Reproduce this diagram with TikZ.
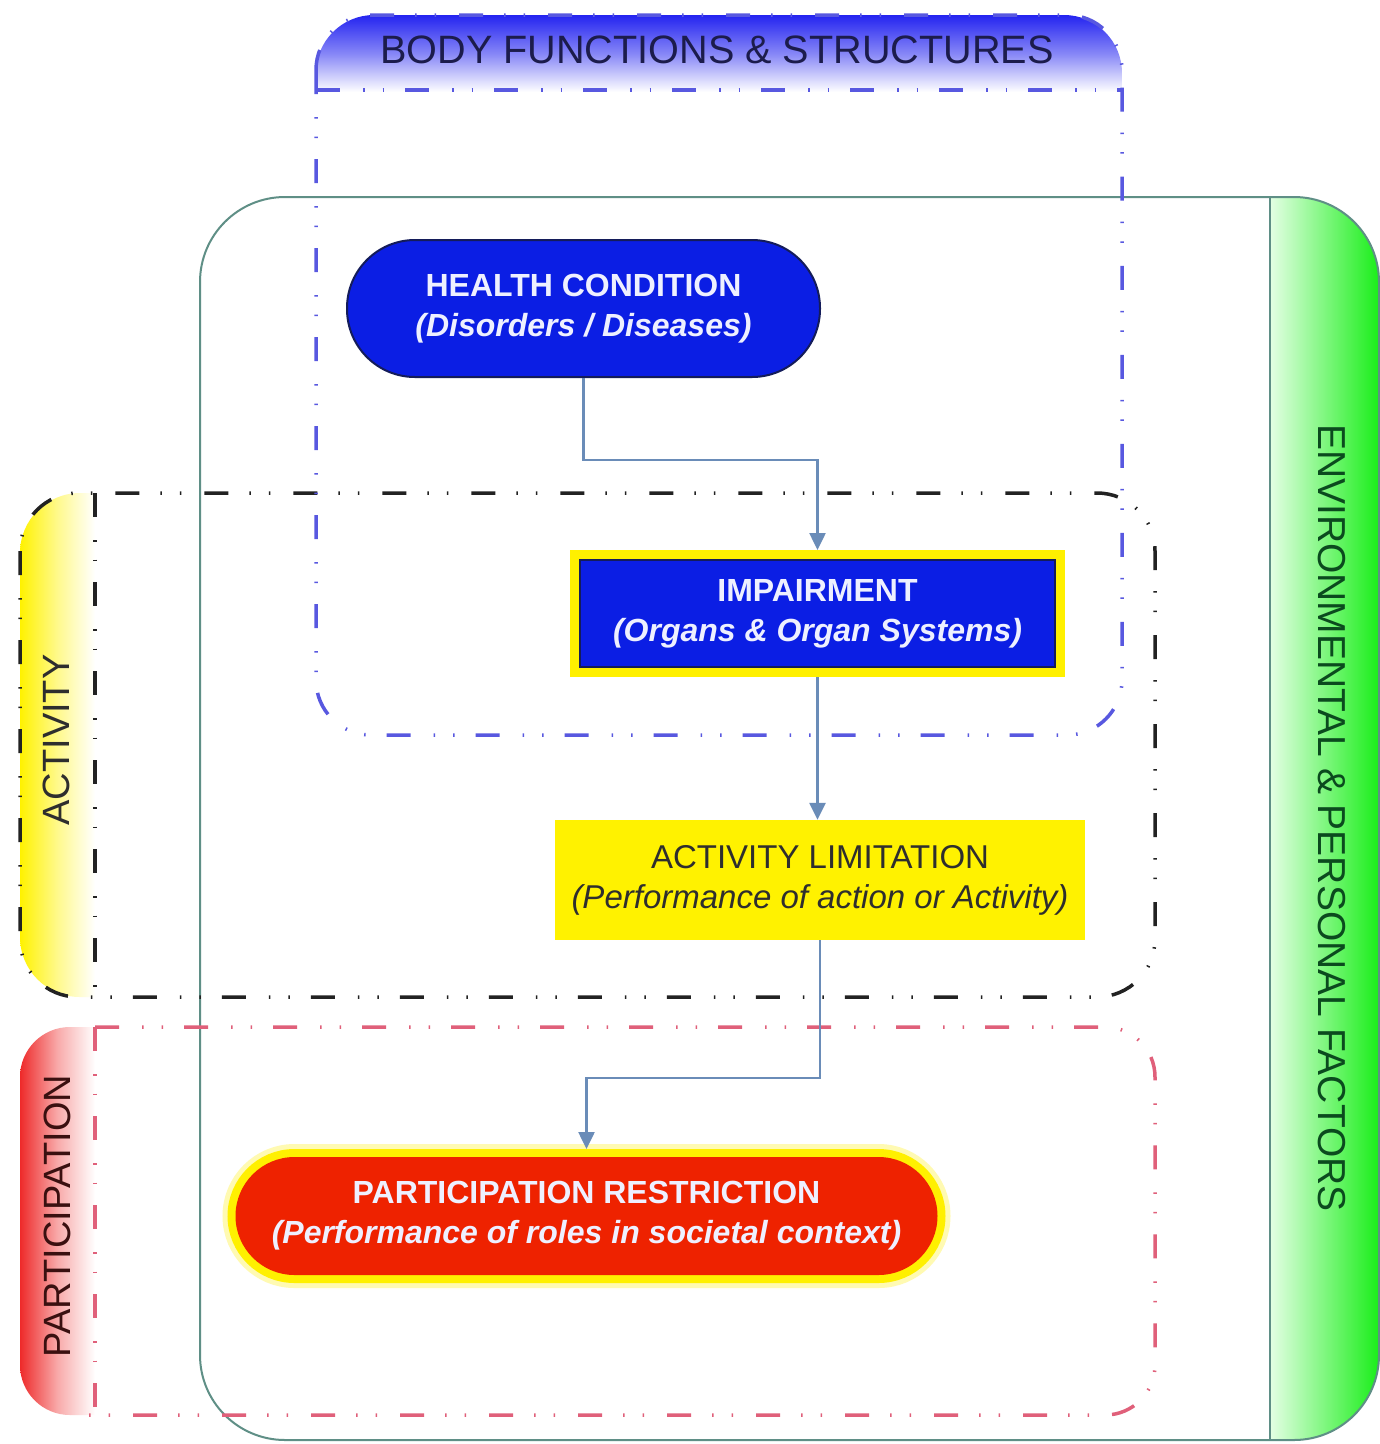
\documentclass[tikz,border=0pt]{standalone}
\usepackage{fontspec}
\setmainfont{Liberation Sans}
\usetikzlibrary{arrows.meta}

\definecolor{envline}{HTML}{5F8F86}
\definecolor{envgreen}{HTML}{18EE18}
\definecolor{envlight}{HTML}{E4FFE4}
\definecolor{envtext}{HTML}{0B4A1E}
\definecolor{bfblue}{HTML}{2424F0}
\definecolor{bfline}{HTML}{5858E0}
\definecolor{bftext}{HTML}{1C1C4C}
\definecolor{actline}{HTML}{222222}
\definecolor{actyellow}{HTML}{FFF200}
\definecolor{acttext}{HTML}{2E2E2E}
\definecolor{partline}{HTML}{E0607A}
\definecolor{partred}{HTML}{EE2A2A}
\definecolor{parttext}{HTML}{3A1010}
\definecolor{nodeblue}{HTML}{0B1EE4}
\definecolor{nodeedge}{HTML}{141C5A}
\definecolor{nodetext}{HTML}{EEF0FF}
\definecolor{rimyellow}{HTML}{FFF000}
\definecolor{redbox}{HTML}{EE2200}
\definecolor{connblue}{HTML}{6A8CB8}

\begin{document}
\begin{tikzpicture}[x=1pt,y=-1pt,
  dd/.style={dash pattern=on 24pt off 23pt on 1.5pt off 18pt on 1.5pt off 21pt},
  bfstroke/.style={draw=bfline, line width=3.5pt, dd},
  actstroke/.style={draw=actline, line width=3.5pt, dd},
  partstroke/.style={draw=partline, line width=3.5pt, dd},
  nodefont/.style={font=\fontsize{32}{40}\selectfont},
  health/.style={nodefont, fill=nodeblue, draw=nodeedge, line width=2pt,
    minimum width=473pt, minimum height=137pt, rounded corners=68pt,
    text=nodetext, align=center, inner sep=0pt},
  impbox/.style={nodefont, fill=nodeblue, draw=nodeedge, line width=1.5pt,
    minimum width=475pt, minimum height=107pt,
    preaction={draw=rimyellow, line width=20pt},
    outer sep=10pt, text=nodetext, align=center, inner sep=0pt},
  actbox/.style={font=\fontsize{33}{40}\selectfont, fill=actyellow,
    minimum width=530pt, minimum height=120pt,
    text=acttext, align=center, inner sep=0pt},
  partbox/.style={nodefont, fill=redbox,
    minimum width=702pt, minimum height=118pt, rounded corners=59pt,
    preaction={draw=rimyellow!30!white, line width=26pt},
    preaction={draw=rimyellow, line width=16pt},
    outer sep=8pt, text=nodetext, align=center, inner sep=0pt},
  conn/.style={draw=connblue, line width=2.5pt,
    -{Triangle[width=16pt,length=17pt]}},
  sidelabel/.style={font=\fontsize{38}{46}\selectfont}
]
\useasboundingbox (0,0) rectangle (1380,1444);
\fill[white] (0,0) rectangle (1380,1444);

% environmental & personal factors frame
\begin{scope}
  \clip[rounded corners=85pt] (200,197) rectangle (1379,1440);
  \shade[left color=envlight, right color=envgreen] (1270,190) rectangle (1380,1444);
\end{scope}
\draw[envline, line width=2pt, rounded corners=85pt] (200,197) rectangle (1379,1440);
\draw[envline, line width=2pt] (1270,197) -- (1270,1440);
\node[sidelabel, rotate=-90, text=envtext, font=\fontsize{39}{47}\selectfont] (envlabel) at (1332,818) {ENVIRONMENTAL \& PERSONAL FACTORS};

% body functions & structures header band
\begin{scope}
  \clip[rounded corners=58pt] (316,15) rectangle (1122,400);
  \shade[top color=bfblue, bottom color=white, middle color=bfblue!55!white] (316,15) rectangle (1122,92);
\end{scope}

% activity band
\begin{scope}
  \clip[rounded corners=60pt] (20,493) rectangle (1155,997);
  \shade[left color=actyellow, right color=white, middle color=actyellow!45!white] (20,493) rectangle (95,997);
\end{scope}

% participation band
\begin{scope}
  \clip[rounded corners=50pt] (20,1027) rectangle (1155,1415);
  \shade[left color=partred, right color=white, middle color=partred!40!white] (20,1027) rectangle (95,1415);
\end{scope}

% dashed frames
\draw[actstroke, rounded corners=58pt] (20,493) rectangle (1155,997);
\draw[actstroke] (95,493) -- (95,997);
\draw[partstroke, rounded corners=50pt] (95,1027) -- (1155,1027) -- (1155,1415) -- (80,1415);
\draw[partstroke] (95,1027) -- (95,1415);
\draw[bfstroke, rounded corners=55pt] (316,15) rectangle (1122,735);
\draw[bfstroke] (316,90) -- (1122,90);

% band titles
\node[font=\fontsize{39.6}{46}\selectfont, text=bftext] (bflabel) at (717,50) {BODY FUNCTIONS \& STRUCTURES};
\node[sidelabel, rotate=90, text=acttext] (actlabel) at (56,740) {ACTIVITY};
\node[sidelabel, rotate=90, text=parttext] (partlabel) at (57,1216) {PARTICIPATION};

% chain of conditions
\node[health] (hc) at (583.5,308.5) {\textbf{HEALTH CONDITION}\\\textbf{\textit{(Disorders / Diseases)}}};
\node[impbox] (imp) at (817.5,613.5) {\textbf{IMPAIRMENT}\\\textbf{\textit{(Organs \& Organ Systems)}}};
\node[actbox] (act) at (820,880) {ACTIVITY LIMITATION\\\textit{(Performance of action or Activity)}};
\node[partbox] (part) at (586.5,1216) {\textbf{PARTICIPATION RESTRICTION}\\\textbf{\textit{(Performance of roles in societal context)}}};

% connectors
\draw[conn] (hc.south) -- (hc.south |- 0,460) -| (imp.north);
\draw[conn] (imp.south) -- (imp.south |- act.north);
\draw[conn] (act.south) -- (act.south |- 0,1078) -| (part.north);
\end{tikzpicture}
\end{document}
